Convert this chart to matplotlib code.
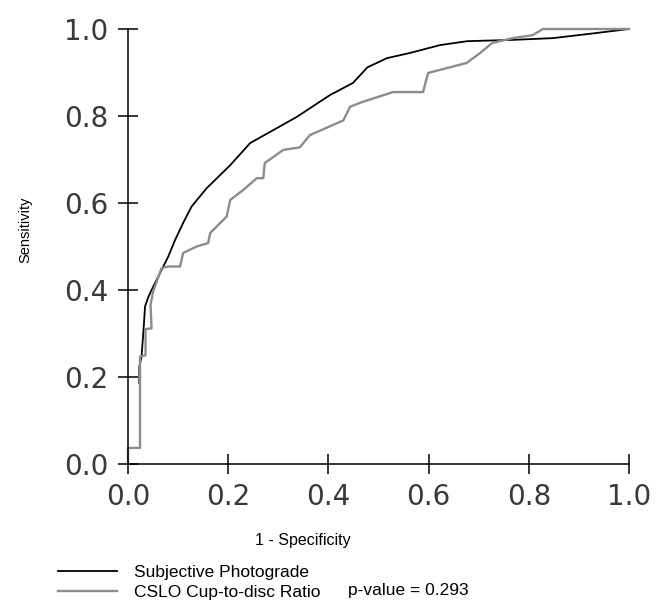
import matplotlib
matplotlib.use('Agg')
import matplotlib.pyplot as plt

# ROC curve points (1 - specificity, sensitivity)
photograde_fpr = [0.0226, 0.0226, 0.027, 0.031, 0.034, 0.041, 0.047, 0.067, 0.080, 0.094,
                  0.110, 0.127, 0.157, 0.204, 0.244, 0.283, 0.337, 0.403, 0.449, 0.478,
                  0.517, 0.563, 0.623, 0.677, 0.768, 0.848, 0.922, 1.0]
photograde_tpr = [0.186, 0.224, 0.247, 0.308, 0.362, 0.385, 0.400, 0.446, 0.476, 0.515,
                  0.554, 0.592, 0.634, 0.687, 0.738, 0.763, 0.798, 0.848, 0.876, 0.912,
                  0.933, 0.945, 0.963, 0.972, 0.975, 0.979, 0.989, 1.0]

cslo_fpr = [0.0, 0.0, 0.024, 0.024, 0.035, 0.035, 0.047, 0.045, 0.050, 0.067, 0.080,
            0.104, 0.110, 0.137, 0.160, 0.164, 0.197, 0.204, 0.230, 0.257, 0.270,
            0.273, 0.310, 0.343, 0.363, 0.430, 0.443, 0.467, 0.529, 0.589, 0.599,
            0.636, 0.676, 0.703, 0.727, 0.768, 0.808, 0.828, 1.0]
cslo_tpr = [0.0, 0.037, 0.037, 0.247, 0.250, 0.310, 0.312, 0.366, 0.396, 0.450, 0.454,
            0.454, 0.485, 0.500, 0.508, 0.531, 0.569, 0.607, 0.630, 0.657, 0.657,
            0.692, 0.722, 0.728, 0.756, 0.790, 0.821, 0.832, 0.855, 0.855, 0.899,
            0.910, 0.922, 0.945, 0.968, 0.979, 0.986, 1.0, 1.0]

tick_values = [0.0, 0.2, 0.4, 0.6, 0.8, 1.0]
tick_labels = ['0.0', '0.2', '0.4', '0.6', '0.8', '1.0']

fig = plt.figure(figsize=(6.67, 6.11), dpi=100)
ax = fig.add_axes([128 / 667, 1 - 464 / 611, 501 / 667, 435 / 611])

ax.plot(photograde_fpr, photograde_tpr, color='black', lw=1.3,
        label='Subjective Photograde')
ax.plot(cslo_fpr, cslo_tpr, color='#8c8c8c', lw=1.7,
        label='CSLO Cup-to-disc Ratio')

ax.set_xlim(0, 1)
ax.set_ylim(0, 1)
ax.set_xticks(tick_values)
ax.set_xticklabels(tick_labels)
ax.set_yticks(tick_values)
ax.set_yticklabels(tick_labels)
ax.tick_params(direction='inout', length=14, width=1.1, pad=7,
               labelsize=20, labelcolor='#3a3a3a')
for lab in ax.get_xticklabels() + ax.get_yticklabels():
    lab.set_fontfamily('DejaVu Sans')

ax.spines['top'].set_visible(False)
ax.spines['right'].set_visible(False)
ax.spines['left'].set_linewidth(1.1)
ax.spines['bottom'].set_linewidth(1.1)
ax.spines['left'].set_clip_on(False)
ax.spines['bottom'].set_clip_on(False)
for line in ax.get_lines():
    line.set_clip_on(False)

ax.set_xlabel('1 - Specificity', fontsize=11.5, family='Liberation Sans')
ax.xaxis.set_label_coords(0.349, -0.159)
ax.set_ylabel('Sensitivity', fontsize=10.5, family='Liberation Sans')
ax.yaxis.set_label_coords(-0.19, 0.538)

fig.legend(loc='upper left', bbox_to_anchor=(58 / 667, 1 - 565 / 611),
           frameon=False, borderpad=0, borderaxespad=0, handlelength=3.4,
           handletextpad=1.0, labelspacing=0.27,
           prop={'family': 'Liberation Sans', 'size': 12.5})

fig.text(348 / 667, 1 - 590 / 611, 'p-value = 0.293', fontsize=12.5,
         family='Liberation Sans', va='center', ha='left')

fig.savefig('out.png', dpi=100)
